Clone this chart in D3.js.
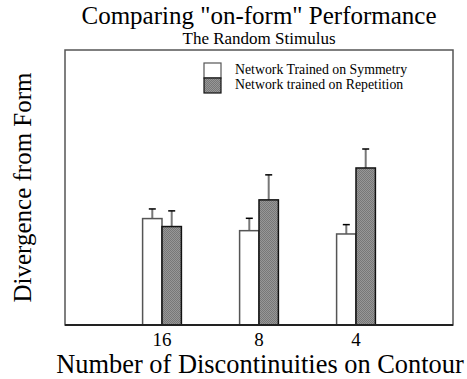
<!DOCTYPE html>
<html>
<head>
<meta charset="utf-8">
<script src="https://cdn.jsdelivr.net/npm/d3@7"></script>
</head>
<body style="margin:0; background:#fff">
<svg class="chart"></svg>
<script>
const categories = ["16", "8", "4"];
const series = ["Network Trained on Symmetry", "Network trained on Repetition"];
const symmetryValues = [38.7, 34.3, 33.1];
const repetitionValues = [35.8, 45.5, 57.1];
const symmetryErrors = [3.5, 4.5, 3.4];
const repetitionErrors = [5.7, 9.1, 6.9];

const width = 467, height = 379,
      margin = { top: 50, left: 65, right: 14, bottom: 54 };
const serif = "Liberation Serif";

const svg = d3.select(".chart")
    .attr("width", width).attr("height", height);

// checkered grey fill for the repetition bars
const defs = svg.append("defs");
const pat = defs.append("pattern")
    .attr("id", "dots")
    .attr("width", 2).attr("height", 2)
    .attr("patternUnits", "userSpaceOnUse");
pat.append("rect").attr("width", 2).attr("height", 2).attr("fill", "#979797");
pat.append("rect").attr("width", 1).attr("height", 1).attr("fill", "#777");
pat.append("rect").attr("x", 1).attr("y", 1).attr("width", 1).attr("height", 1).attr("fill", "#777");

const x = d3.scalePoint()
    .domain(categories)
    .range([margin.left, width - margin.right])
    .padding(1);

const barW = x.step() * 0.2;
const xs = d3.scaleBand().domain(series).range([-barW, barW]);

const y = d3.scaleLinear()
    .domain([0, 100])
    .range([height - margin.bottom, margin.top]);

const rows = [];
categories.forEach((c, i) => {
    rows.push({ cat: c, s: series[0], v: symmetryValues[i], e: symmetryErrors[i] });
    rows.push({ cat: c, s: series[1], v: repetitionValues[i], e: repetitionErrors[i] });
});

// frame
svg.append("rect")
    .attr("x", margin.left).attr("y", margin.top)
    .attr("width", width - margin.left - margin.right)
    .attr("height", height - margin.top - margin.bottom)
    .attr("fill", "none")
    .attr("stroke", "#555")
    .attr("stroke-width", 1.5);

// error bars
const eb = svg.selectAll(".err").data(rows).enter().append("g");
eb.append("line")
    .attr("x1", d => x(d.cat) + xs(d.s) + xs.bandwidth() / 2)
    .attr("x2", d => x(d.cat) + xs(d.s) + xs.bandwidth() / 2)
    .attr("y1", d => y(d.v))
    .attr("y2", d => y(d.v + d.e))
    .attr("stroke", "#777")
    .attr("stroke-width", 2);
eb.append("line")
    .attr("x1", d => x(d.cat) + xs(d.s) + xs.bandwidth() / 2 - 3.5)
    .attr("x2", d => x(d.cat) + xs(d.s) + xs.bandwidth() / 2 + 3.5)
    .attr("y1", d => y(d.v + d.e))
    .attr("y2", d => y(d.v + d.e))
    .attr("stroke", "#000")
    .attr("stroke-width", 1.5);

// bars
svg.selectAll(".bar").data(rows).enter().append("rect")
    .attr("x", d => x(d.cat) + xs(d.s))
    .attr("y", d => y(d.v))
    .attr("width", xs.bandwidth())
    .attr("height", d => y(0) - y(d.v))
    .attr("fill", d => d.s === series[0] ? "#fff" : "url(#dots)")
    .attr("stroke", d => d.s === series[0] ? "#555" : "#111")
    .attr("stroke-width", 1.5);

// x axis line
svg.append("line")
    .attr("x1", margin.left).attr("x2", width - margin.right)
    .attr("y1", y(0)).attr("y2", y(0))
    .attr("stroke", "#222").attr("stroke-width", 2);

svg.selectAll(".tick").data(categories).enter().append("text")
    .attr("x", d => x(d))
    .attr("y", y(0) + 21)
    .attr("text-anchor", "middle")
    .attr("font-family", serif)
    .attr("font-size", "19px")
    .text(d => d);

// titles
const cx = (margin.left + width - margin.right) / 2;
svg.append("text").attr("x", cx).attr("y", 24)
    .attr("text-anchor", "middle")
    .attr("font-family", serif).attr("font-size", "25px")
    .text('Comparing "on-form" Performance');
svg.append("text").attr("x", cx).attr("y", 44)
    .attr("text-anchor", "middle")
    .attr("font-family", serif).attr("font-size", "17px")
    .text("The Random Stimulus");

svg.append("text").attr("x", cx + 1).attr("y", 373)
    .attr("text-anchor", "middle")
    .attr("font-family", serif).attr("font-size", "26.4px")
    .text("Number of Discontinuities on Contour");

svg.append("text")
    .attr("transform", `translate(31, ${(margin.top + height - margin.bottom) / 2}) rotate(-90)`)
    .attr("text-anchor", "middle")
    .attr("font-family", serif).attr("font-size", "25px")
    .text("Divergence from Form");

// legend
const lg = svg.append("g").attr("transform", "translate(204, 63)");
series.forEach((s, i) => {
    lg.append("rect")
        .attr("x", 0).attr("y", i * 15)
        .attr("width", 17).attr("height", 15)
        .attr("fill", i === 0 ? "#fff" : "url(#dots)")
        .attr("stroke", i === 0 ? "#555" : "#111")
        .attr("stroke-width", 1.2);
    lg.append("text")
        .attr("x", 31).attr("y", i * 15 + 11)
        .attr("font-family", serif)
        .attr("font-size", "13.8px")
        .text(s);
});
</script>
</body>
</html>
